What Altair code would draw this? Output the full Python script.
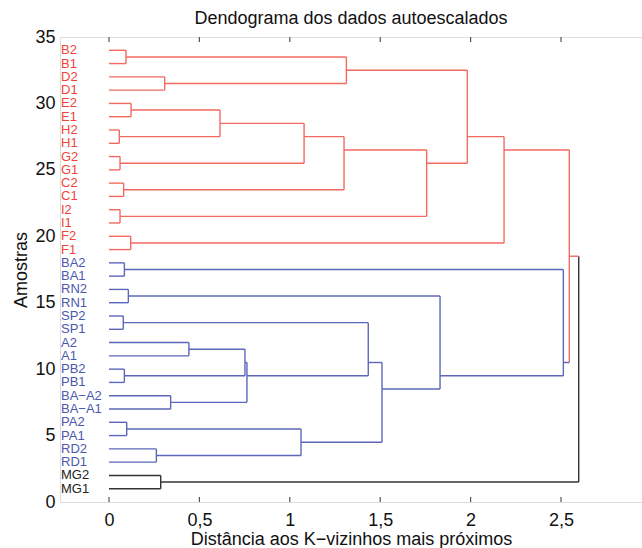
import altair as alt
import pandas as pd

# ---- data -------------------------------------------------------------
leaves = ["B2", "B1", "D2", "D1", "E2", "E1", "H2", "H1", "G2", "G1",
          "C2", "C1", "\u00a0I2", "\u00a0I1", "F2", "F1",
          "BA2", "BA1", "RN2", "RN1", "SP2", "SP1", "A2", "A1", "PB2", "PB1",
          "BA\u2212A2", "BA\u2212A1", "PA2", "PA1", "RD2", "RD1",
          "MG2", "MG1"]
leaf_group = ["r"] * 16 + ["b"] * 16 + ["k"] * 2

# merges: (node, child a, child b, height, group)
merges = [
    ("n1", "B2", "B1", 0.094, "r"),
    ("n2", "D2", "D1", 0.308, "r"),
    ("n3", "E2", "E1", 0.122, "r"),
    ("n4", "H2", "H1", 0.057, "r"),
    ("n5", "G2", "G1", 0.061, "r"),
    ("n6", "C2", "C1", 0.081, "r"),
    ("n7", "\u00a0I2", "\u00a0I1", 0.061, "r"),
    ("n8", "F2", "F1", 0.120, "r"),
    ("n9", "BA2", "BA1", 0.085, "b"),
    ("n10", "RN2", "RN1", 0.107, "b"),
    ("n11", "SP2", "SP1", 0.079, "b"),
    ("n12", "A2", "A1", 0.442, "b"),
    ("n13", "PB2", "PB1", 0.085, "b"),
    ("n14", "BA\u2212A2", "BA\u2212A1", 0.341, "b"),
    ("n15", "PA2", "PA1", 0.098, "b"),
    ("n16", "RD2", "RD1", 0.262, "b"),
    ("n17", "MG2", "MG1", 0.286, "k"),
    ("n18", "n3", "n4", 0.614, "r"),
    ("n19", "n18", "n5", 1.079, "r"),
    ("n20", "n19", "n6", 1.300, "r"),
    ("n21", "n1", "n2", 1.313, "r"),
    ("n22", "n20", "n7", 1.757, "r"),
    ("n23", "n21", "n22", 1.982, "r"),
    ("n24", "n23", "n8", 2.185, "r"),
    ("n25", "n12", "n13", 0.752, "b"),
    ("n26", "n25", "n14", 0.763, "b"),
    ("n27", "n11", "n26", 1.434, "b"),
    ("n28", "n15", "n16", 1.062, "b"),
    ("n29", "n27", "n28", 1.510, "b"),
    ("n30", "n10", "n29", 1.831, "b"),
    ("n31", "n9", "n30", 2.513, "b"),
    ("n32", "n24", "n31", 2.546, "r"),
    ("n33", "n32", "n17", 2.598, "k"),
]

x_ticks = [0, 0.5, 1, 1.5, 2, 2.5]
y_ticks = [0, 5, 10, 15, 20, 25, 30, 35]

# ---- build dendrogram segments from the linkage ----------------------
n = len(leaves)
pos = {}
height = {}
group = {}
members = {}
for i, name in enumerate(leaves):
    pos[name] = n - i
    height[name] = 0.0
    group[name] = leaf_group[i]
    members[name] = [n - i]

segs = []
for node, a, b, h, g in merges:
    members[node] = members[a] + members[b]
    pos[node] = sum(members[node]) / len(members[node])
    height[node] = h
    group[node] = g
    segs.append(dict(x=h, x2=h, y=pos[a], y2=pos[b], grp=g))
    for c in (a, b):
        segs.append(dict(x=height[c], x2=h, y=pos[c], y2=pos[c], grp=group[c]))

seg_df = pd.DataFrame(segs)
leaf_df = pd.DataFrame({"label": leaves, "y": [pos[l] for l in leaves], "grp": leaf_group})
tick_df = pd.DataFrame({"t": x_ticks})

W, H = 582, 465
FONT = "Liberation Sans"
FS = 18
xscale = alt.Scale(domain=[-0.271, 2.948], nice=False, zero=False)
yscale = alt.Scale(domain=[0, 35], nice=False, zero=False)

lines = alt.Chart(seg_df).mark_rule(strokeWidth=1.4).encode(
    x=alt.X("x:Q", scale=xscale,
            axis=alt.Axis(values=x_ticks, format="~g",
                          labelExpr="replace(datum.label, '.', ',')",
                          ticks=False, domain=False, grid=False,
                          labelFontSize=FS, labelPadding=9, labelColor="#111",
                          labelFont=FONT,
                          title="Distância aos K\u2212vizinhos mais próximos",
                          titleFontSize=FS, titleFontWeight="normal", titleFont=FONT,
                          titleColor="#111", titlePadding=1)),
    x2="x2:Q",
    y=alt.Y("y:Q", scale=yscale,
            axis=alt.Axis(values=y_ticks, ticks=False, domain=False, grid=False,
                          labelFontSize=FS, labelPadding=5, labelColor="#111",
                          labelFont=FONT,
                          title="Amostras", titleFontSize=FS, titleFontWeight="normal",
                          titleFont=FONT, titleColor="#111", titlePadding=4)),
    y2="y2:Q",
    color=alt.Color("grp:N", scale=alt.Scale(domain=["r", "b", "k"],
                                             range=["#f26a60", "#5d67b9", "#333333"]),
                    legend=None),
)

labels = alt.Chart(leaf_df).mark_text(align="left", baseline="middle", fontSize=13,
                                      font=FONT, dx=1).encode(
    x=alt.value(0),
    y=alt.Y("y:Q", scale=yscale),
    text="label:N",
    color=alt.Color("grp:N", scale=alt.Scale(domain=["r", "b", "k"],
                                             range=["#f0443a", "#4a58b0", "#222222"]),
                    legend=None),
)

ticks_bottom = alt.Chart(tick_df).mark_rule(color="#555", strokeWidth=1.2).encode(
    x=alt.X("t:Q", scale=xscale), y=alt.value(H), y2=alt.value(H - 5))
ticks_top = alt.Chart(tick_df).mark_rule(color="#555", strokeWidth=1.2).encode(
    x=alt.X("t:Q", scale=xscale), y=alt.value(0), y2=alt.value(5))

chart = alt.layer(lines, labels, ticks_bottom, ticks_top).resolve_scale(
    color="independent"
).properties(
    width=W, height=H,
    title=alt.TitleParams("Dendograma dos dados autoescalados", fontSize=FS,
                          fontWeight="normal", font=FONT, color="#111", offset=0),
    autosize=alt.AutoSizeParams(type="none"),
    padding={"left": 60, "top": 37, "right": 0, "bottom": 46},
).configure_view(stroke="#555", strokeWidth=1.2).configure(background="white")

chart.save("out.html", embed_options={"renderer": "svg", "actions": False})
